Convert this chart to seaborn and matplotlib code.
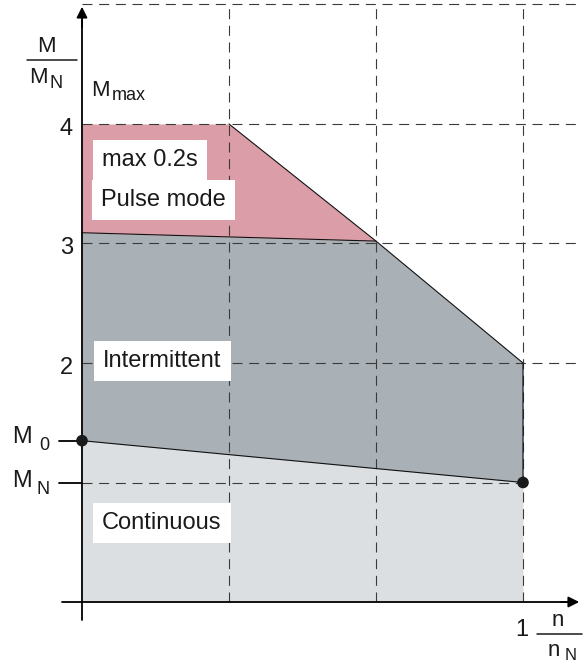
import numpy as np
import pandas as pd
import matplotlib
matplotlib.use("Agg")
import matplotlib.pyplot as plt
import seaborn as sns

# ---- data ----
speed_knots = [0.0, 1/3, 2/3, 1.0]          # n / n_N
limit_curve = [4.0, 4.0, 3.02, 2.0]          # M / M_N, pulse-mode limit
pulse_lower_x = [0.0, 2/3]
pulse_lower_y = [3.09, 3.02]                 # boundary pulse / intermittent
cont_x = [0.0, 1.0]
cont_y = [1.35, 1.0]                         # M0 -> MN continuous limit
y_ticks = [4, 3, 2]
grid_y = [5, 4, 3, 2]
grid_x = [1/3, 2/3, 1.0]
region_labels = ["max 0.2s", "Pulse mode", "Intermittent", "Continuous"]

C_PULSE = "#DB9DA8"
C_INTER = "#A9B0B6"
C_CONT = "#DCDFE2"

sns.set_theme(style="white")
plt.rcParams["font.family"] = ["Liberation Sans", "DejaVu Sans"]

W, H = 583, 667
fig = plt.figure(figsize=(W / 100, H / 100), dpi=100)
ax = fig.add_axes([0, 0, 1, 1])
X0, XS = 82, 441.0
Y0, YS = 602, 119.5
ax.set_xlim((0 - X0) / XS, (W - X0) / XS)
ax.set_ylim((Y0 - H) / YS, (Y0 - 0) / YS)
ax.axis("off")

def px(x):
    return (x - X0) / XS

def py(y):
    return (Y0 - y) / YS

# ---- fills ----
cx = np.array(cont_x)
ax.fill_between(cx, 0, cont_y, color=C_CONT, lw=0, zorder=1)

ix = np.array([0.0, 2/3, 1.0])
i_upper = np.interp(ix, pulse_lower_x + [1.0], pulse_lower_y + [limit_curve[-1]])
i_lower = np.interp(ix, cont_x, cont_y)
ax.fill_between(ix, i_lower, i_upper, color=C_INTER, lw=0, zorder=1)

pxs = np.array(speed_knots[:3])
p_upper = np.array(limit_curve[:3])
p_lower = np.interp(pxs, pulse_lower_x, pulse_lower_y)
ax.fill_between(pxs, p_lower, p_upper, color=C_PULSE, lw=0, zorder=1)

# ---- dashed grid ----
dash = dict(color="#3a3a3a", lw=0.8, ls=(0, (9, 6)), zorder=2)
xr = px(580)
for gy in grid_y:
    ax.plot([0, xr], [gy, gy], **dash)
ax.plot([0, 1.0], [1.0, 1.0], **dash)
for gx in grid_x:
    ax.plot([gx, gx], [0, 5], **dash)

# ---- boundary lines ----
lw_b = 0.8
df_lim = pd.DataFrame({"x": speed_knots[1:] + [1.0], "y": limit_curve[1:] + [cont_y[-1]]})
sns.lineplot(data=df_lim, x="x", y="y", sort=False, estimator=None, color="#111111", lw=lw_b, ax=ax, zorder=3)
sns.lineplot(x=pulse_lower_x, y=pulse_lower_y, sort=False, estimator=None, color="#111111", lw=lw_b, ax=ax, zorder=3)
sns.lineplot(x=cont_x, y=cont_y, sort=False, estimator=None, color="#111111", lw=lw_b, ax=ax, zorder=3)

# ---- axes with arrows ----
ax.plot([0, 0], [py(620), py(20)], color="black", lw=1.3, zorder=4)
ax.plot([px(62), px(568)], [0, 0], color="black", lw=1.3, zorder=4)
ax.annotate("", xy=(0, py(4)), xytext=(0, py(30)),
            arrowprops=dict(arrowstyle="-|>", color="black", lw=1.3, mutation_scale=16), zorder=5)
ax.annotate("", xy=(px(582), 0), xytext=(px(558), 0),
            arrowprops=dict(arrowstyle="-|>", color="black", lw=1.3, mutation_scale=16), zorder=5)

# tick marks for M0 / MN
ax.plot([px(59), 0], [cont_y[0], cont_y[0]], color="black", lw=1.3, zorder=4)
ax.plot([px(59), 0], [cont_y[1], cont_y[1]], color="black", lw=1.3, zorder=4)

# ---- points ----
sns.scatterplot(x=[0.0, 1.0], y=cont_y, s=70, color="#1a1a1a", edgecolor="none", ax=ax, zorder=6)

# ---- text ----
FS = 17
tc = "#1a1a1a"
for t in y_ticks:
    ax.text(px(73), t - 5 / YS, str(t), ha="right", va="center", fontsize=FS, color=tc)

# M0, MN labels
ax.text(px(12), py(437), "M", ha="left", va="center", fontsize=FS, color=tc)
ax.text(px(39), py(445), "0", ha="left", va="center", fontsize=13, color=tc)
ax.text(px(12), py(481), "M", ha="left", va="center", fontsize=FS, color=tc)
ax.text(px(37), py(489), "N", ha="left", va="center", fontsize=13, color=tc)

# y-axis title fraction
ax.text(px(46), py(47), "M", ha="center", va="center", fontsize=16, color=tc)
ax.plot([px(27), px(77)], [py(60), py(60)], color=tc, lw=1.1)
ax.text(px(29), py(78), "M", ha="left", va="center", fontsize=16, color=tc)
ax.text(px(50), py(84), "N", ha="left", va="center", fontsize=13, color=tc)

# M max
ax.text(px(91), py(90), "M", ha="left", va="center", fontsize=16, color=tc)
ax.text(px(112), py(95), "max", ha="left", va="center", fontsize=13, color=tc)

# x-axis title
ax.text(px(528), py(630), "1", ha="right", va="center", fontsize=FS, color=tc)
ax.text(px(558), py(621), "n", ha="center", va="center", fontsize=16, color=tc)
ax.plot([px(537), px(582)], [py(634), py(634)], color=tc, lw=1.1)
ax.text(px(548), py(651), "n", ha="left", va="center", fontsize=16, color=tc)
ax.text(px(565), py(656), "N", ha="left", va="center", fontsize=12, color=tc)

# region labels in white boxes
box = dict(boxstyle="square,pad=0.4", facecolor="white", edgecolor="none")
label_pos = [(102, 160), (101, 200), (103, 361), (102, 523)]
for lab, (lx, ly) in zip(region_labels, label_pos):
    ax.text(px(lx), py(ly), lab, ha="left", va="center", fontsize=FS, color=tc, bbox=box, zorder=7)

fig.savefig("out.png", dpi=100)
